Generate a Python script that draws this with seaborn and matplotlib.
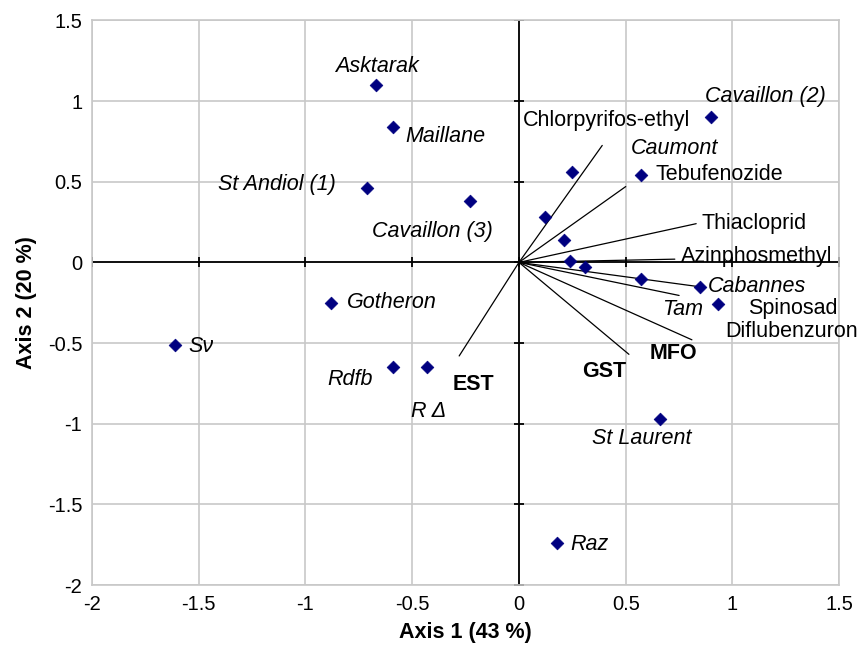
import numpy as np
import pandas as pd
import seaborn as sns
import matplotlib.pyplot as plt

# sites (scores on axis 1 / axis 2)
site_x = [-0.67, -0.59, -0.71, -0.23, -0.88, -1.61, -0.59, -0.43,
          0.90, 0.57, 0.25, 0.12, 0.21, 0.24, 0.31, 0.57, 0.85, 0.93, 0.66, 0.18]
site_y = [1.10, 0.84, 0.46, 0.38, -0.25, -0.51, -0.65, -0.65,
          0.90, 0.54, 0.56, 0.28, 0.14, 0.01, -0.03, -0.10, -0.15, -0.26, -0.97, -1.74]

# variable vectors (end points, drawn from origin)
vec_names = ["Chlorpyrifos-ethyl", "Tebufenozide", "Thiacloprid", "Azinphosmethyl",
             "Spinosad", "Diflubenzuron", "MFO", "GST", "EST"]
vec_x = [0.39, 0.50, 0.83, 0.73, 0.84, 0.75, 0.81, 0.515, -0.28]
vec_y = [0.725, 0.47, 0.24, 0.02, -0.15, -0.205, -0.48, -0.57, -0.58]

# labels: text, x, y, style
lab_text = ["Asktarak", "Maillane", "St Andiol (1)", "Cavaillon (3)", "Gotheron", "Sν",
            "Rdfb", "R Δ", "Cavaillon (2)", "Caumont", "Cabannes", "Tam", "St Laurent", "Raz",
            "Chlorpyrifos-ethyl", "Tebufenozide", "Thiacloprid", "Azinphosmethyl",
            "Spinosad", "Diflubenzuron", "MFO", "GST", "EST"]
lab_x = [-0.664, -0.343, -1.134, -0.404, -0.596, -1.488, -0.793, -0.425, 1.155, 0.728,
         1.113, 0.768, 0.577, 0.329, 0.408, 0.939, 1.103, 1.113, 1.282, 1.277, 0.725, 0.399, -0.214]
lab_y = [1.215, 0.781, 0.482, 0.192, -0.25, -0.521, -0.727, -0.927, 1.029, 0.709,
         -0.149, -0.293, -1.089, -1.750, 0.880, 0.544, 0.240, 0.037, -0.283, -0.428,
         -0.562, -0.676, -0.754]
lab_style = ["italic"] * 14 + ["normal"] * 6 + ["bold"] * 3

sns.set_style("white")
plt.rcParams['font.family'] = ['Liberation Sans', 'DejaVu Sans']
plt.rcParams['text.color'] = 'black'
plt.rcParams['axes.labelcolor'] = 'black'
plt.rcParams['xtick.color'] = 'black'
plt.rcParams['ytick.color'] = 'black'

fig = plt.figure(figsize=(8.59, 6.46), dpi=100)
ax = fig.add_axes([0.107, 0.0944, 0.870, 0.874])

ax.set_xlim(-2, 1.5)
ax.set_ylim(-2, 1.5)
ticks_x = np.arange(-2, 1.51, 0.5)
ticks_y = np.arange(-2, 1.51, 0.5)
ax.set_xticks(ticks_x)
ax.set_yticks(ticks_y)
ax.set_xticklabels([f"{t:g}" for t in ticks_x])
ax.set_yticklabels([f"{t:g}" for t in ticks_y])
ax.grid(True, color="#c8c8c8", lw=1.2)
ax.set_axisbelow(True)
for s in ax.spines.values():
    s.set_color("#c8c8c8")
    s.set_linewidth(1.2)
ax.tick_params(length=0, labelsize=14.5, pad=7)

# zero axes with small crossing ticks
ax.axhline(0, color="black", lw=1.3, zorder=2)
ax.axvline(0, color="black", lw=1.3, zorder=2)
ax.plot(ticks_x, np.zeros_like(ticks_x), ls="none", marker="|", ms=7, mew=1.3, color="black", zorder=2)
ax.plot(np.zeros_like(ticks_y), ticks_y, ls="none", marker="_", ms=7, mew=1.3, color="black", zorder=2)

# vectors
for vx, vy in zip(vec_x, vec_y):
    ax.plot([0, vx], [0, vy], color="black", lw=0.9, zorder=3)

pts = pd.DataFrame({"x": site_x, "y": site_y})
sns.scatterplot(data=pts, x="x", y="y", marker="D", s=42, color="#000080",
                edgecolor="#000080", linewidth=0.5, ax=ax, zorder=4)

for t, x, y, st in zip(lab_text, lab_x, lab_y, lab_style):
    if st == "bold":
        ax.text(x, y, t, ha="center", va="center", fontsize=15.5, fontweight="bold", zorder=5)
    else:
        ax.text(x, y, t, ha="center", va="center", fontsize=15.5, fontstyle=st, zorder=5)

ax.set_xlabel("Axis 1 (43 %)", fontsize=15.5, fontweight="bold", labelpad=6)
ax.set_ylabel("Axis 2 (20 %)", fontsize=15.5, fontweight="bold", labelpad=8)

plt.savefig("out.png", dpi=100)
